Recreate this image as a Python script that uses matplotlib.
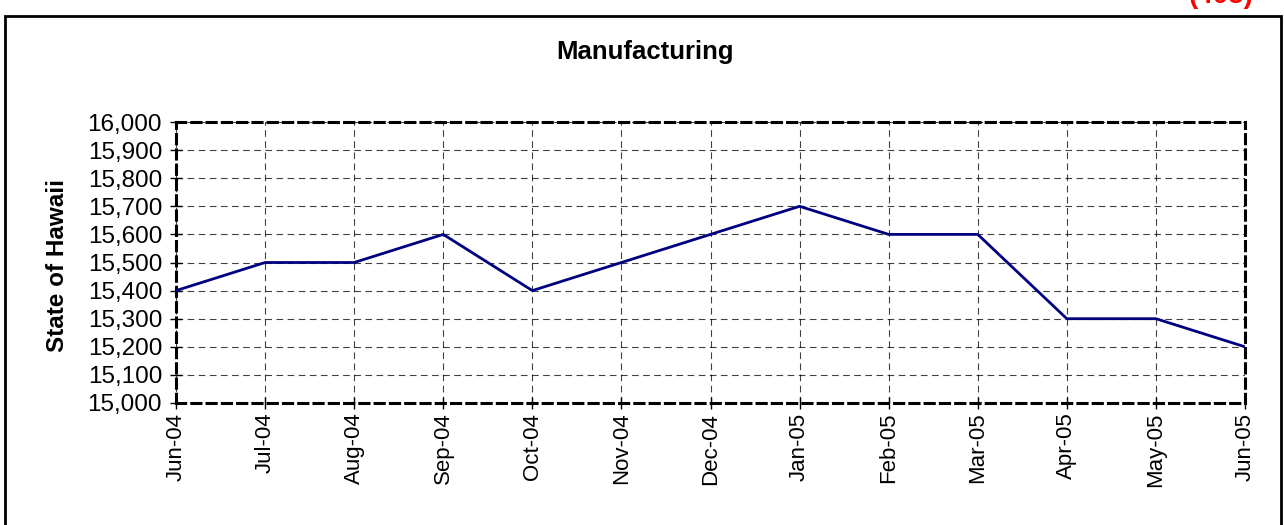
import matplotlib.pyplot as plt
from matplotlib.patches import Rectangle

# data
months = ["Jun-04", "Jul-04", "Aug-04", "Sep-04", "Oct-04", "Nov-04", "Dec-04",
          "Jan-05", "Feb-05", "Mar-05", "Apr-05", "May-05", "Jun-05"]
jobs = [15400, 15500, 15500, 15600, 15400, 15500, 15600,
        15700, 15600, 15600, 15300, 15300, 15200]
yticks = list(range(15000, 16001, 100))

plt.rcParams["font.family"] = ["Liberation Sans", "DejaVu Sans"]

W, H = 1284, 525
fig = plt.figure(figsize=(W / 100, H / 100), dpi=100)

# outer frame of the chart box
fig.patches.append(Rectangle((5 / W, -0.05), 1276 / W, (H - 16) / H + 0.05,
                             transform=fig.transFigure, fill=False,
                             edgecolor="black", linewidth=2))

# page number, clipped at the top
fig.text(1253 / W, 1 + 4 / H, "(403)", color="red", fontsize=20,
         fontweight="bold", ha="right", va="center")

ax = fig.add_axes([176 / W, 1 - 403 / H, (1245 - 176) / W, (403 - 122) / H])
x = list(range(len(months)))
ax.plot(x, jobs, color="#000080", linewidth=2, zorder=3)

ax.set_xlim(0, len(months) - 1)
ax.set_ylim(15000, 16000)
ax.set_yticks(yticks)
ax.set_yticklabels(["{:,}".format(v) for v in yticks], fontsize=17.5)
ax.set_xticks(x)
ax.set_xticklabels(months, rotation=90, fontsize=16)
ax.tick_params(direction="inout", length=8, width=1)
ax.tick_params(axis="y", pad=6)
ax.tick_params(axis="x", pad=3)

ax.grid(True, color="black", linestyle=(0, (6, 4)), linewidth=0.8, alpha=0.75)
for s in ax.spines.values():
    s.set_linestyle((0, (3, 2)))
    s.set_linewidth(2.2)
    s.set_color("black")

fig.text(58 / W, 1 - 266 / H, "State of Hawaii", fontsize=17.5,
         fontweight="bold", rotation=90, ha="center", va="center")
fig.text(645 / W, 1 - 52 / H, "Manufacturing", fontsize=18.5,
         fontweight="bold", ha="center", va="center")

fig.savefig("out.png", dpi=100)
